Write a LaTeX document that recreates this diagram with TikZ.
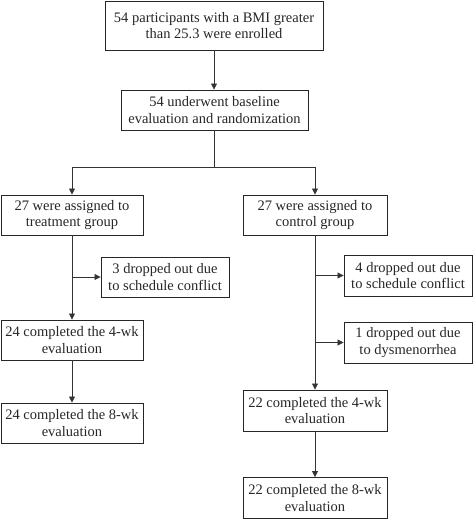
\documentclass[tikz,border=0pt]{standalone}
\usepackage{fontspec}
\setmainfont{Liberation Serif}
\usetikzlibrary{arrows.meta}
\begin{document}
\begin{tikzpicture}[x=1pt,y=-1pt,
  box/.style={draw=black!85, line width=0.9pt, align=center, inner sep=0pt, font=\fontsize{14.5}{16.5}\selectfont, text=black!85},
  conn/.style={draw=black!80, line width=0.8pt},
  arr/.style={conn, -{Triangle[length=6pt,width=6pt]}}]
\useasboundingbox (0,0) rectangle (474,519);
\node[box, minimum width=218pt, minimum height=49pt] (top) at (214,25.5) {54 participants with a BMI greater\\than 25.3 were enrolled};
\node[box, minimum width=187pt, minimum height=40pt] (base) at (214.5,110) {54 underwent baseline\\evaluation and randomization};
\node[box, minimum width=142pt, minimum height=40pt] (treat) at (72,215) {27 were assigned to\\treatment group};
\node[box, minimum width=144pt, minimum height=40pt] (ctrl) at (315,215) {27 were assigned to\\control group};
\node[box, minimum width=128pt, minimum height=40pt] (tdrop) at (165,277) {3 dropped out due\\to schedule conflict};
\node[box, minimum width=142pt, minimum height=40pt] (t4) at (72,340) {24 completed the 4-wk\\evaluation};
\node[box, minimum width=142pt, minimum height=40pt] (t8) at (72,423) {24 completed the 8-wk\\evaluation};
\node[box, minimum width=128pt, minimum height=41pt] (cdropa) at (408,275.5) {4 dropped out due\\to schedule conflict};
\node[box, minimum width=128pt, minimum height=41pt] (cdropb) at (408,342.5) {1 dropped out due\\to dysmenorrhea};
\node[box, minimum width=144pt, minimum height=41pt] (c4) at (315,410.5) {22 completed the 4-wk\\evaluation};
\node[box, minimum width=144pt, minimum height=41pt] (c8) at (315,498) {22 completed the 8-wk\\evaluation};
\coordinate (split) at (214,167);
\coordinate (tsplit) at (72,277);
\coordinate (csplita) at (315,275.5);
\coordinate (csplitb) at (315,342.5);
\draw[arr] (top.south -| split) -- (base.north -| split);
\draw[conn] (base.south -| split) -- (split);
\draw[arr] (split) -| (treat.north);
\draw[arr] (split) -| (ctrl.north);
\draw[arr] (treat.south) -- (t4.north);
\draw[arr] (tsplit) -- (tdrop.west);
\draw[arr] (t4.south) -- (t8.north);
\draw[arr] (ctrl.south) -- (c4.north);
\draw[arr] (csplita) -- (cdropa.west);
\draw[arr] (csplitb) -- (cdropb.west);
\draw[arr] (c4.south) -- (c8.north);
\end{tikzpicture}
\end{document}
